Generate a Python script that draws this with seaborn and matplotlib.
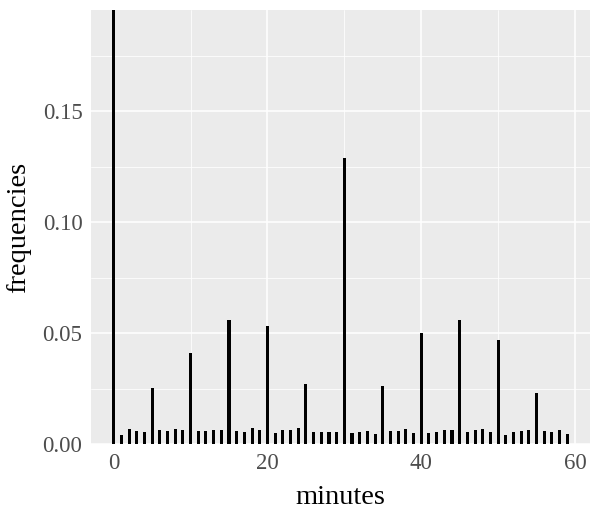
import matplotlib
matplotlib.use("Agg")
import matplotlib.pyplot as plt
import seaborn as sns
import numpy as np
from matplotlib.ticker import FixedLocator, FormatStrFormatter

minutes = list(range(60))
freqs = [
    0.2100, 0.0041, 0.0069, 0.0060, 0.0055, 0.0252, 0.0062, 0.0058, 0.0066, 0.0062,
    0.0410, 0.0060, 0.0060, 0.0063, 0.0064, 0.0559, 0.0060, 0.0055, 0.0073, 0.0062,
    0.0530, 0.0050, 0.0063, 0.0062, 0.0071, 0.0270, 0.0056, 0.0056, 0.0054, 0.0054,
    0.1288, 0.0050, 0.0054, 0.0060, 0.0047, 0.0260, 0.0059, 0.0060, 0.0069, 0.0050,
    0.0500, 0.0050, 0.0053, 0.0062, 0.0062, 0.0559, 0.0053, 0.0065, 0.0068, 0.0054,
    0.0468, 0.0042, 0.0056, 0.0060, 0.0065, 0.0230, 0.0060, 0.0053, 0.0063, 0.0044,
]
x_ticks = [0, 20, 40, 60]
y_ticks = [0.00, 0.05, 0.10, 0.15]

sns.set_theme(style="darkgrid", rc={
    "axes.facecolor": "#EBEBEB",
    "grid.color": "white",
})
plt.rcParams["font.family"] = ["Liberation Serif", "DejaVu Serif"]

fig = plt.figure(figsize=(5.99, 5.17), dpi=100)
ax = fig.add_axes([91/599, 1-444/517, (590-91)/599, (444-10)/517])

sns.barplot(x=minutes, y=freqs, native_scale=True, width=0.4, color="black",
            saturation=1, linewidth=0, ax=ax)

ax.set_xlim(-2.95, 61.95)
ax.set_ylim(0, 0.1955)
ax.xaxis.set_major_locator(FixedLocator(x_ticks))
ax.yaxis.set_major_locator(FixedLocator(y_ticks))
ax.xaxis.set_minor_locator(FixedLocator([10, 30, 50]))
ax.yaxis.set_minor_locator(FixedLocator([0.025, 0.075, 0.125, 0.175]))
ax.yaxis.set_major_formatter(FormatStrFormatter("%.2f"))
ax.grid(which="major", color="white", linewidth=1.1)
ax.grid(which="minor", color="white", linewidth=0.55)
ax.set_axisbelow(True)
for s in ax.spines.values():
    s.set_visible(False)
ax.tick_params(axis="both", which="major", length=3.2, width=0.8, color="#333333",
               labelsize=16.5, labelcolor="#4D4D4D", pad=3)
ax.tick_params(axis="both", which="minor", length=0)
ax.set_xlabel("minutes", fontsize=20.5, color="black", labelpad=8)
ax.set_ylabel("frequencies", fontsize=20.5, color="black", labelpad=8)

fig.savefig("out.png", dpi=100)
